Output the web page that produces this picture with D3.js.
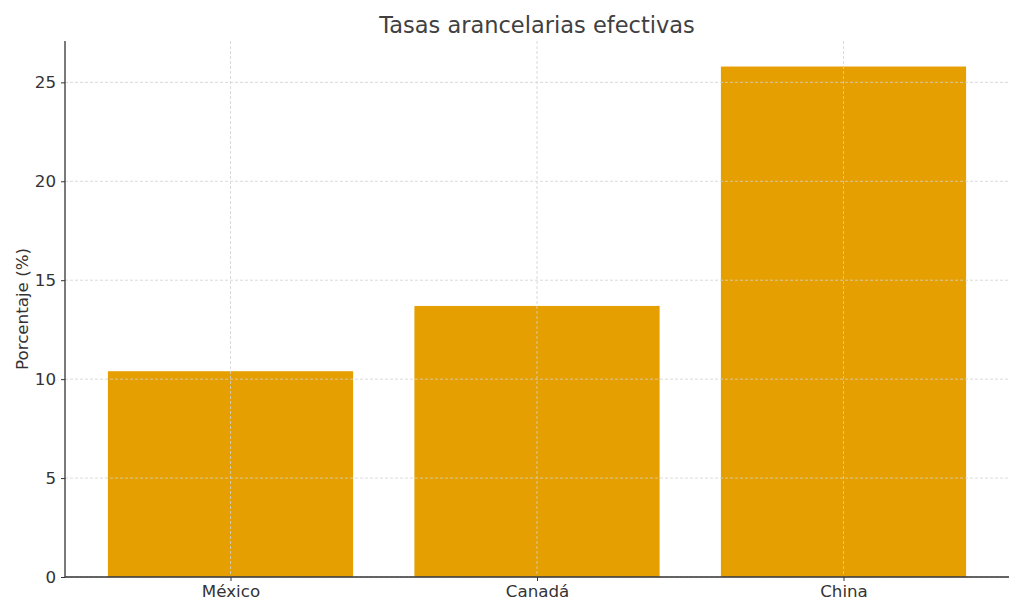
<!DOCTYPE html>
<html>
<head>
<meta charset="utf-8">
<script src="https://cdn.jsdelivr.net/npm/d3@7"></script>
<style>
  body { margin: 0; background: #fff; }
  svg text { font-family: "DejaVu Sans", sans-serif; fill: #333; }
  .grid line { stroke: #d0d0d0; stroke-dasharray: 3,2; stroke-width: 0.8; }
</style>
</head>
<body>
<div id="chart"></div>
<script>
var countries = ["México", "Canadá", "China"];
var tariffRates = [10.4, 13.7, 25.8];
var yTicks = [0, 5, 10, 15, 20, 25];

var margin = { top: 41, right: 15, bottom: 37, left: 65 };
var width = 1024 - margin.left - margin.right;
var height = 614 - margin.top - margin.bottom;

var svg = d3.select("#chart")
    .append("svg")
    .attr("width", 1024)
    .attr("height", 614);

var g = svg.append("g")
    .attr("transform", "translate(" + margin.left + "," + margin.top + ")");

// linear x like matplotlib: bars at 0,1,2 with width 0.8 and 5% margins
var x = d3.scaleLinear().domain([-0.54, 2.54]).range([0, width]);
var y = d3.scaleLinear().domain([0, d3.max(tariffRates) * 1.05]).range([height, 0]);
var barW = 0.8;

g.selectAll("rect.bar")
    .data(tariffRates)
    .enter().append("rect")
    .attr("class", "bar")
    .attr("x", function(d, i) { return x(i - barW / 2); })
    .attr("width", x(barW) - x(0))
    .attr("y", function(d) { return y(d); })
    .attr("height", function(d) { return height - y(d); })
    .attr("fill", "#E69F00");

// grid over the bars
g.append("g").attr("class", "grid")
    .selectAll("line.h").data(yTicks).enter().append("line")
    .attr("x1", 0).attr("x2", width)
    .attr("y1", function(d) { return y(d); })
    .attr("y2", function(d) { return y(d); });

g.append("g").attr("class", "grid")
    .selectAll("line.v").data(countries).enter().append("line")
    .attr("x1", function(d, i) { return x(i); })
    .attr("x2", function(d, i) { return x(i); })
    .attr("y1", 0).attr("y2", height);

var yAxis = g.append("g")
    .call(d3.axisLeft(y).tickValues(yTicks).tickSize(4).tickPadding(5));
var xAxis = g.append("g")
    .attr("transform", "translate(0," + height + ")")
    .call(d3.axisBottom(x).tickValues([0, 1, 2])
        .tickFormat(function(d) { return countries[d]; })
        .tickSize(4).tickPadding(4));

[yAxis, xAxis].forEach(function(a) {
    a.attr("font-family", "DejaVu Sans").attr("font-size", null);
    a.selectAll("text").style("font-size", "16.7px").style("fill", "#333");
    a.selectAll("line").attr("stroke", "#333");
    a.select(".domain").attr("stroke", "#333").attr("stroke-width", 1.3);
});
xAxis.select(".domain").attr("d", "M0,0H" + width);
yAxis.select(".domain").attr("d", "M0," + height + "V0");

svg.append("text")
    .text("Tasas arancelarias efectivas")
    .attr("x", margin.left + width / 2)
    .attr("y", 33)
    .attr("text-anchor", "middle")
    .style("font-size", "22.5px")
    .style("fill", "#404040");

svg.append("text")
    .text("Porcentaje (%)")
    .attr("transform", "translate(28," + (margin.top + height / 2) + ") rotate(-90)")
    .attr("text-anchor", "middle")
    .style("font-size", "16.7px");
</script>
</body>
</html>
